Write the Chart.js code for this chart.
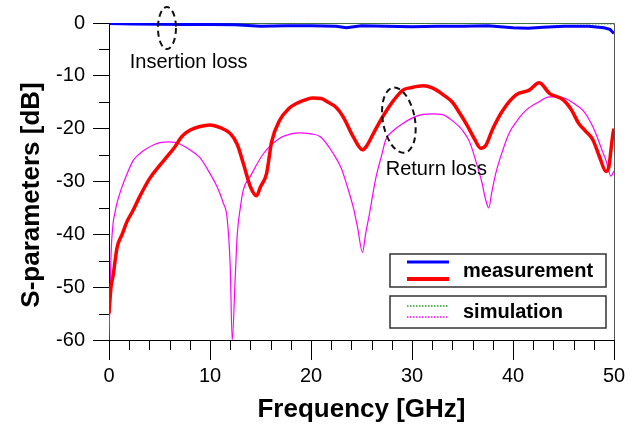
<!DOCTYPE html>
<html>
<head>
<meta charset="utf-8">
<script src="https://cdn.jsdelivr.net/npm/chart.js@4/dist/chart.umd.min.js"></script>
<style>
html,body{margin:0;padding:0;background:#fff;}
#wrap{width:636px;height:426px;}
</style>
</head>
<body>
<div id="wrap"><canvas id="c" width="636" height="426"></canvas></div>
<script>
// ---- DATA ----
const freqMeasS11 = [0,0.2,0.4,0.8,1.3,1.8,2.4,3,4,5,5.7,6.5,7.2,8,9,10,11,12,12.7,13.3,14,14.6,15,15.6,16.1,16.9,17.8,18.6,19.5,20.2,21,21.6,22.5,23.2,24.2,25.1,25.5,26.1,26.8,27.5,28.2,29.1,30,31.1,32,33.1,34,34.7,35.5,36.2,36.8,37.3,38,39,40.3,41.6,42.6,43.6,45,45.8,46.5,47.2,47.9,48.6,49.2,49.5,49.7,49.9,50];
const measS11 = [-55,-50,-47.9,-42.5,-40,-37.5,-35.4,-33,-29.5,-27,-25.4,-23.5,-21.5,-20.3,-19.6,-19.3,-19.8,-20.9,-23,-26.6,-31,-32.7,-31,-28.5,-22.5,-18.4,-16.2,-15.2,-14.5,-14.2,-14.3,-14.9,-16,-17.8,-21.6,-24,-23.3,-21.2,-18.7,-16.5,-14.6,-12.7,-12.2,-11.9,-12.3,-13.6,-15,-17,-19.5,-22,-23.7,-23.2,-20,-16.5,-13.6,-12.7,-11.3,-13.3,-14.6,-16.5,-19,-20.5,-22.1,-25.5,-28.1,-27.2,-24,-20.9,-20];

const freqSimS11 = [0,0.2,0.4,0.6,0.8,1.2,1.8,2.4,3,3.7,4.5,5.2,6,7,8,9,10,10.7,11.3,11.7,12.0,12.2,12.5,12.7,13,13.3,14,15.3,16.9,18,18.9,20,20.9,22.2,23,23.6,24.2,24.6,25.1,25.4,25.8,26.4,27,27.4,28.2,29.1,30,31.1,32,33.1,34,35,35.7,36.3,36.9,37.3,37.6,37.9,38.3,39,39.6,40.4,41.3,42.5,43.6,44.4,45.2,46,46.9,47.6,48.2,48.7,49.2,49.7,50];
const simS11 = [-60,-44,-38,-35.8,-34,-31.5,-28.5,-26,-24.8,-23.8,-23,-22.6,-22.5,-22.9,-24,-25.5,-28.5,-31,-34,-37,-46,-60,-48,-40,-35,-31.6,-29,-24.7,-21.8,-21,-20.8,-21,-21.5,-24.7,-27.5,-31,-35,-38.6,-43.4,-40,-36,-29.5,-25,-22.1,-20.3,-19,-18,-17.3,-17.2,-17.4,-18.5,-20.3,-22.5,-26,-30,-33.5,-35,-32,-28.4,-24,-20.9,-18.5,-16.5,-15,-14,-14,-14.3,-15.2,-16.5,-18.5,-20.9,-23.5,-26,-29,-28];

const freqMeasS21 = [0,2.5,5,7.5,10,12.5,15,17.5,20,22.5,23.5,25,27.5,30,32.5,35,37.5,40,41.5,43,45,47.5,49,49.6,50];
const measS21 = [-0.1,-0.2,-0.25,-0.3,-0.3,-0.35,-0.6,-0.5,-0.5,-0.6,-0.9,-0.5,-0.6,-0.7,-0.6,-0.6,-0.5,-0.9,-1.0,-0.8,-0.6,-0.6,-0.9,-1.2,-2.0];

const freqSimS21 = [0,10,20,30,40,45,50];
const simS21 = [0,-0.05,-0.05,-0.08,-0.1,-0.12,-0.2];

const xTickStep = 10, xMinorStep = 2;
const yTickStep = 10, yMinorStep = 5;

function pts(xs, ys){ return xs.map((v,i)=>({x:v, y:ys[i]})); }

const FONT = "'Liberation Sans', Arial, sans-serif";

const decor = {
  id: 'decor',
  beforeDatasetsDraw(chart){
    const {ctx, chartArea:a} = chart;
    ctx.save();
    ctx.strokeStyle = '#555';
    ctx.lineWidth = 1;
    ctx.beginPath();
    ctx.moveTo(a.left, a.top + 0.5);
    ctx.lineTo(a.right + 0.5, a.top + 0.5);
    ctx.lineTo(a.right + 0.5, a.bottom);
    ctx.stroke();
    ctx.restore();
  },
  afterDraw(chart){
    const {ctx, chartArea:a, scales:{x, y}} = chart;
    ctx.save();
    // minor ticks
    ctx.strokeStyle = '#000';
    ctx.lineWidth = 1;
    ctx.beginPath();
    for (let v = x.min; v <= x.max; v += xMinorStep){
      if (Math.abs(v % xTickStep) < 1e-9) continue;
      const px = Math.round(x.getPixelForValue(v)) + 0.5;
      ctx.moveTo(px, a.bottom); ctx.lineTo(px, a.bottom + 10);
    }
    for (let v = y.min; v <= y.max; v += yMinorStep){
      if (Math.abs(v % yTickStep) < 1e-9) continue;
      const py = Math.round(y.getPixelForValue(v)) + 0.5;
      ctx.moveTo(a.left - 10, py); ctx.lineTo(a.left, py);
    }
    ctx.stroke();

    // y title
    ctx.fillStyle = '#000';
    ctx.font = 'bold 26px ' + FONT;
    ctx.textAlign = 'center';
    ctx.textBaseline = 'middle';
    ctx.save();
    ctx.translate(32, 195);
    ctx.rotate(-Math.PI/2);
    ctx.fillText('S-parameters [dB]', 0, 0);
    ctx.restore();

    // annotations (positioned in data coordinates)
    ctx.strokeStyle = '#111';
    ctx.lineWidth = 2;
    ctx.setLineDash([6,4]);
    ctx.beginPath();
    ctx.ellipse(x.getPixelForValue(5.74), y.getPixelForValue(-0.95), 9, 21, 0, 0, Math.PI*2);
    ctx.stroke();
    ctx.beginPath();
    ctx.ellipse(x.getPixelForValue(28.7), y.getPixelForValue(-18.4), 16, 33, -0.18, 0, Math.PI*2);
    ctx.stroke();
    ctx.setLineDash([]);
    ctx.font = '20px ' + FONT;
    ctx.textAlign = 'left';
    ctx.textBaseline = 'middle';
    ctx.fillText('Insertion loss', x.getPixelForValue(2.05), y.getPixelForValue(-7.4));
    ctx.fillText('Return loss', x.getPixelForValue(27.4), y.getPixelForValue(-27.8));

    // legend boxes
    const bx = 390, bw = 216;
    ctx.fillStyle = '#fff';
    ctx.strokeStyle = '#333';
    ctx.lineWidth = 1.5;
    [[254,33],[296,32]].forEach(([by,bh])=>{
      ctx.fillRect(bx, by, bw, bh);
      ctx.strokeRect(bx, by, bw, bh);
    });
    // samples
    ctx.lineCap = 'butt';
    ctx.strokeStyle = '#0000ff'; ctx.lineWidth = 3;
    ctx.beginPath(); ctx.moveTo(407,262); ctx.lineTo(449,262); ctx.stroke();
    ctx.strokeStyle = '#ff0000'; ctx.lineWidth = 4;
    ctx.beginPath(); ctx.moveTo(407,279); ctx.lineTo(449,279); ctx.stroke();
    ctx.setLineDash([1.5,1.5]); ctx.lineWidth = 1.5;
    ctx.strokeStyle = '#22a022';
    ctx.beginPath(); ctx.moveTo(407,306); ctx.lineTo(449,306); ctx.stroke();
    ctx.strokeStyle = '#ff00ff';
    ctx.beginPath(); ctx.moveTo(407,317); ctx.lineTo(449,317); ctx.stroke();
    ctx.setLineDash([]);
    ctx.fillStyle = '#000';
    ctx.font = 'bold 20px ' + FONT;
    ctx.textBaseline = 'middle';
    ctx.fillText('measurement', 463, 271);
    ctx.fillText('simulation', 463, 312);
    ctx.restore();
  }
};

new Chart(document.getElementById('c'), {
  type: 'scatter',
  data: {
    datasets: [
      {label:'S21 measurement', data: pts(freqMeasS21, measS21), showLine:true, borderColor:'#0000ff', borderWidth:3, pointRadius:0},
      {label:'S11 measurement', data: pts(freqMeasS11, measS11), showLine:true, borderColor:'#ff0000', borderWidth:3.5, pointRadius:0, borderJoinStyle:'round', cubicInterpolationMode:'monotone'},
      {label:'S21 simulation', data: pts(freqSimS21, simS21), showLine:true, borderColor:'#22a022', borderWidth:1, borderDash:[1.5,1.5], pointRadius:0},
      {label:'S11 simulation', data: pts(freqSimS11, simS11), showLine:true, borderColor:'#ff00ff', borderWidth:1.2, pointRadius:0, cubicInterpolationMode:'monotone'}
    ]
  },
  options: {
    responsive: false,
    animation: false,
    devicePixelRatio: 1,
    layout: {padding: {left:0, top:23, right:22, bottom:0}},
    plugins: {legend:{display:false}, tooltip:{enabled:false}},
    scales: {
      x: {
        type:'linear', min:0, max:50,
        ticks:{stepSize:xTickStep, color:'#000', font:{family:FONT, size:20}, padding:4, maxRotation:0},
        grid:{drawOnChartArea:false, drawTicks:true, tickLength:20, color:'#000', tickWidth:1},
        border:{display:true, color:'#000', width:1},
        title:{display:true, text:'Frequency [GHz]', color:'#000', font:{family:FONT, size:26, weight:'bold'}, padding:{top:0, bottom:1}},
        afterFit(s){ s.height = 86; }
      },
      y: {
        type:'linear', min:-60, max:0,
        ticks:{stepSize:yTickStep, color:'#000', font:{family:FONT, size:20}, padding:8},
        grid:{drawOnChartArea:false, drawTicks:true, tickLength:16, color:'#000', tickWidth:1},
        border:{display:true, color:'#000', width:1},
        afterFit(s){ s.width = 109; }
      }
    }
  },
  plugins: [decor]
});
</script>
</body>
</html>
